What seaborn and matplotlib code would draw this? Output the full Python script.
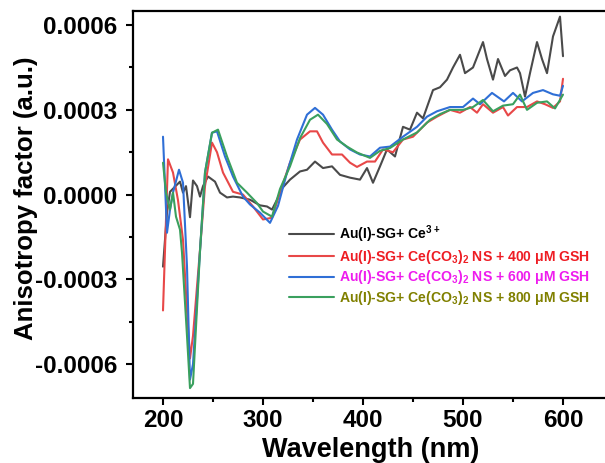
import numpy as np
import pandas as pd
import seaborn as sns
import matplotlib
matplotlib.use("Agg")
import matplotlib.pyplot as plt
from matplotlib.ticker import FixedLocator, FormatStrFormatter

# values in units of 1e-4
wl_ce = [200, 204, 207, 212, 217, 220, 223, 227, 230, 234, 237, 240, 245, 252, 257, 264, 270,
         277, 287, 297, 304, 309, 314, 319, 327, 337, 344, 352, 360, 369, 377, 387, 397, 404,
         410, 417, 424, 432, 440, 447, 454, 460, 470, 477, 484, 490, 497, 502, 510, 520, 524,
         530, 535, 542, 547, 554, 557, 562, 567, 574, 579, 584, 590, 597, 600]
g_ce = [-2.55, -0.64, 0.1, 0.28, 0.46, 0.07, 0.3, -0.8, 0.5, 0.3, -0.07, 0.3, 0.64, 0.46, 0.07,
        -0.1, -0.07, -0.1, -0.18, -0.38, -0.42, -0.53, -0.18, 0.22, 0.53, 0.82, 0.88, 1.17, 0.94,
        1.0, 0.7, 0.6, 0.53, 0.94, 0.42, 1.0, 1.6, 1.35, 2.4, 2.3, 2.9, 2.7, 3.7, 3.8, 4.07, 4.5,
        4.95, 4.3, 4.5, 5.4, 4.8, 4.07, 4.8, 4.2, 4.4, 4.5, 4.3, 3.47, 4.3, 5.4, 4.8, 4.3, 5.6,
        6.3, 4.9]

wl_400 = [200, 205, 210, 215, 220, 224, 227, 230, 237, 242, 249, 254, 260, 270, 280, 290, 300,
          309, 317, 327, 337, 347, 354, 360, 369, 379, 387, 394, 404, 412, 420, 430, 440, 450,
          464, 474, 487, 497, 507, 514, 520, 530, 540, 545, 554, 564, 574, 582, 590, 597, 600]
g_400 = [-4.1, 1.25, 0.78, -0.2, -1.6, -4.1, -5.8, -5.0, -1.95, 0.3, 1.84, 1.5, 0.78, 0.1, 0.0,
         -0.42, -0.88, -0.82, 0.07, 1.13, 1.95, 2.24, 2.24, 1.84, 1.42, 1.42, 1.13, 0.98, 1.17,
         1.17, 1.6, 1.5, 1.95, 2.05, 2.55, 2.76, 3.0, 2.9, 3.1, 2.9, 3.2, 2.9, 3.1, 2.8, 3.1,
         3.1, 3.3, 3.2, 3.07, 3.3, 4.1]

wl_600 = [200, 204, 207, 210, 216, 220, 224, 227, 230, 237, 242, 249, 254, 262, 270, 280, 287,
          297, 307, 315, 324, 334, 344, 352, 360, 369, 377, 387, 397, 407, 417, 427, 440, 454,
          464, 474, 487, 500, 510, 517, 529, 541, 550, 559, 570, 580, 590, 597, 600]
g_600 = [2.05, -1.35, -0.53, 0.07, 0.88, 0.42, -2.55, -6.55, -6.0, -2.0, 0.78, 2.19, 2.24, 1.35,
         0.64, -0.07, -0.35, -0.64, -1.0, -0.4, 0.78, 1.95, 2.83, 3.07, 2.83, 2.3, 1.88, 1.6,
         1.42, 1.35, 1.66, 1.7, 2.05, 2.4, 2.76, 2.95, 3.1, 3.1, 3.4, 3.2, 3.6, 3.3, 3.6, 3.3,
         3.6, 3.7, 3.55, 3.5, 3.85]

wl_800 = [200, 203, 207, 210, 213, 217, 219, 224, 227, 230, 237, 242, 249, 255, 264, 274, 284,
          294, 300, 309, 317, 327, 337, 347, 355, 364, 374, 384, 394, 407, 417, 427, 440, 454,
          467, 477, 487, 500, 510, 520, 530, 540, 550, 557, 564, 574, 584, 592, 600]
g_800 = [1.13, 0.07, -0.53, 0.07, -0.78, -1.24, -2.05, -5.0, -6.85, -6.7, -2.0, 0.78, 2.19,
         2.3, 1.35, 0.42, 0.07, -0.3, -0.6, -0.78, 0.2, 1.0, 2.0, 2.65, 2.83, 2.5, 1.95, 1.7,
         1.49, 1.3, 1.55, 1.65, 1.95, 2.2, 2.65, 2.85, 3.0, 3.0, 3.1, 3.35, 2.95, 3.15, 3.2,
         3.54, 3.0, 3.25, 3.3, 3.05, 3.54]

labels = ["Au(I)-SG+ Ce$^{3+}$",
          "Au(I)-SG+ Ce(CO$_3$)$_2$ NS + 400 \u03bcM GSH",
          "Au(I)-SG+ Ce(CO$_3$)$_2$ NS + 600 \u03bcM GSH",
          "Au(I)-SG+ Ce(CO$_3$)$_2$ NS + 800 \u03bcM GSH"]
line_colors = ["#4a4a4a", "#e84848", "#2f6fd6", "#3aa05e"]
text_colors = ["black", "#ee1c24", "#ee1cee", "#808000"]

sns.set_style("ticks")
plt.rcParams["font.family"] = ["Liberation Sans", "DejaVu Sans"]
plt.rcParams["font.weight"] = "bold"
plt.rcParams["text.color"] = "black"
plt.rcParams["axes.labelcolor"] = "black"
plt.rcParams["xtick.color"] = "black"
plt.rcParams["ytick.color"] = "black"
plt.rcParams["mathtext.fontset"] = "custom"
plt.rcParams["mathtext.rm"] = "Liberation Sans:bold"
plt.rcParams["mathtext.it"] = "Liberation Sans:bold"
plt.rcParams["mathtext.bf"] = "Liberation Sans:bold"
plt.rcParams["mathtext.default"] = "rm"

fig = plt.figure(figsize=(6.05, 4.63), dpi=100)
ax = fig.add_axes([133 / 605, 65 / 463, 475 / 605, 387 / 463])

series = [(wl_ce, g_ce), (wl_400, g_400), (wl_600, g_600), (wl_800, g_800)]
for (wl, g), lab, c in zip(series, labels, line_colors):
    df = pd.DataFrame({"wl": wl, "g": np.array(g) * 1e-4})
    sns.lineplot(data=df, x="wl", y="g", ax=ax, color=c, lw=1.5,
                 sort=False, estimator=None, label=lab)

ax.set_xlim(170, 645)
ax.set_ylim(-0.00072, 0.00065)
ax.xaxis.set_major_locator(FixedLocator([200, 300, 400, 500, 600]))
ax.xaxis.set_minor_locator(FixedLocator([250, 350, 450, 550]))
ax.yaxis.set_major_locator(FixedLocator([-0.0006, -0.0003, 0.0, 0.0003, 0.0006]))
ax.yaxis.set_minor_locator(FixedLocator([-0.00045, -0.00015, 0.00015, 0.00045]))
ax.yaxis.set_major_formatter(FormatStrFormatter("%.4f"))
ax.tick_params(which="major", direction="out", length=5, width=1.5, labelsize=17.5, pad=6)
ax.tick_params(axis="x", which="major", pad=3)
ax.tick_params(which="minor", direction="out", length=3, width=1.5)
for lab in ax.get_xticklabels() + ax.get_yticklabels():
    lab.set_fontweight("bold")
for s in ax.spines.values():
    s.set_linewidth(1.6)
    s.set_color("black")

ax.set_xlabel("Wavelength (nm)", fontsize=19.5, fontweight="bold")
ax.set_ylabel("Anisotropy factor (a.u.)", fontsize=18.5, fontweight="bold")
ax.xaxis.set_label_coords(0.5, -0.1)
ax.yaxis.set_label_coords(-0.2, 0.515)

leg = ax.legend(loc="upper left", bbox_to_anchor=(0.316, 0.466), frameon=False,
                fontsize=10.1, handlelength=3.2, handletextpad=0.35, labelspacing=0.2,
                borderaxespad=0)
for t, c in zip(leg.get_texts(), text_colors):
    t.set_color(c)
    t.set_fontweight("bold")

fig.savefig("out.png", dpi=100)
